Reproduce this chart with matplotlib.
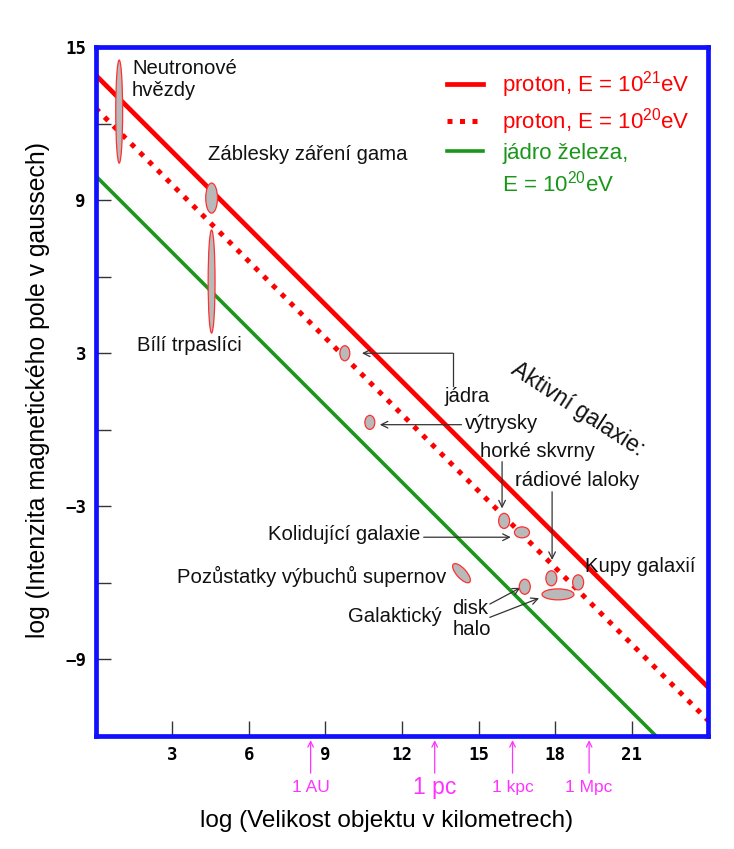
import numpy as np
import matplotlib
matplotlib.use("Agg")
import matplotlib.pyplot as plt
from matplotlib.patches import Ellipse
from matplotlib.lines import Line2D
from matplotlib.transforms import blended_transform_factory

plt.rcParams['font.family'] = ['Liberation Sans', 'DejaVu Sans']
plt.rcParams['mathtext.fontset'] = 'custom'
plt.rcParams['mathtext.rm'] = 'Liberation Sans'
plt.rcParams['mathtext.it'] = 'Liberation Sans:italic'
plt.rcParams['mathtext.bf'] = 'Liberation Sans:bold'

# Hillas lines: log B = b - log R
line_labels = ['proton, E = $\\mathrm{10^{21}}$eV', 'proton, E = $\\mathrm{10^{20}}$eV', 'jádro železa,']
line_b = [13.9, 12.6, 9.95]
line_colors = ['#ff0000', '#ff0000', '#1a961a']
line_styles = ['-', (0, (1, 1.5)), '-']
line_widths = [3.4, 3.6, 2.6]

# astrophysical objects (x = log R [km], y = log B [G])
obj_x = [0.92, 4.54, 4.54, 9.76, 10.74, 16.0, 16.70, 14.33, 16.81, 17.85, 18.11, 18.90]
obj_y = [12.47, 9.08, 5.81, 3.0, 0.29, -3.57, -4.02, -5.62, -6.15, -5.82, -6.45, -5.98]
obj_w = [0.27, 0.46, 0.27, 0.39, 0.39, 0.43, 0.59, 0.95, 0.43, 0.43, 1.25, 0.43]
obj_h = [4.04, 1.18, 4.04, 0.59, 0.55, 0.59, 0.43, 0.38, 0.59, 0.59, 0.43, 0.59]
obj_ang = [0, 0, 0, 0, 0, 0, 0, -48, 0, 0, 0, 0]

# labels: text, x, y, ha, va
labels = [
    ('Neutronové\nhvězdy', 1.42, 14.55, 'left', 'top'),
    ('Záblesky záření gama', 4.40, 10.77, 'left', 'center'),
    ('Bílí trpaslíci', 1.62, 3.32, 'left', 'center'),
    ('jádra', 13.68, 1.30, 'left', 'center'),
    ('výtrysky', 14.46, 0.25, 'left', 'center'),
    ('horké skvrny', 15.05, -0.86, 'left', 'center'),
    ('rádiové laloky', 16.44, -1.99, 'left', 'center'),
    ('Kolidující galaxie', 12.70, -4.12, 'right', 'center'),
    ('Pozůstatky výbuchů supernov', 13.72, -5.73, 'right', 'center'),
    ('Galaktický', 13.55, -7.32, 'right', 'center'),
    ('disk', 13.98, -6.99, 'left', 'center'),
    ('halo', 13.99, -7.82, 'left', 'center'),
    ('Kupy galaxií', 19.16, -5.34, 'left', 'center'),
]

# pointer arrows: (x_from, y_from, x_to, y_to)
pointers = [
    (13.98, 3.0, 10.43, 3.0),
    (14.33, 0.2, 11.13, 0.2),
    (15.92, -1.25, 15.92, -3.08),
    (17.88, -2.43, 17.88, -5.10),
    (12.85, -4.21, 16.26, -4.21),
    (15.44, -6.83, 16.64, -6.19),
    (15.44, -7.35, 17.37, -6.60),
]

# distance marks below x axis
scale_x = [8.42, 13.28, 16.33, 19.33]
scale_lab = ['1 AU', '1 pc', '1 kpc', '1 Mpc']
scale_size = [12.5, 16.5, 12.5, 12.5]

xticks = [3, 6, 9, 12, 15, 18, 21]
yticks = [-12, -9, -6, -3, 0, 3, 6, 9, 12, 15]
ytick_labels = ['', '\u22129', '', '\u22123', '', '3', '', '9', '', '15']

fig = plt.figure(figsize=(7.34, 8.49), dpi=100)
ax = fig.add_axes([0.1304, 0.1331, 0.8346, 0.8115])
ax.set_xlim(0, 24)
ax.set_ylim(-12, 15)

xs = np.array([0, 24])
handles = []
for lab, b, c, ls, lw in zip(line_labels, line_b, line_colors, line_styles, line_widths):
    h, = ax.plot(xs, b - xs, color=c, linestyle=ls, lw=lw, label=lab, zorder=2)
    handles.append(h)
extra = Line2D([], [], color=line_colors[2], linestyle='none', label='E = $\\mathrm{10^{20}}$eV')
handles.append(extra)

for x, y, w, h, a in zip(obj_x, obj_y, obj_w, obj_h, obj_ang):
    ax.add_patch(Ellipse((x, y), w, h, angle=a, facecolor='#b9b9b9',
                         edgecolor='#ff3030', lw=0.9, zorder=4))

for t, x, y, ha, va in labels:
    ax.text(x, y, t, ha=ha, va=va, fontsize=14.6, color='#111111', zorder=5)

ax.text(18.9, 0.8, 'Aktivní galaxie:', rotation=-33, rotation_mode='anchor',
        ha='center', va='center', fontsize=16.5, color='#111111')

# jádra pointer has an elbow
ax.plot([pointers[0][0], pointers[0][0]], [1.72, pointers[0][1]], color='#333333', lw=0.9)
for x0, y0, x1, y1 in pointers:
    ax.annotate('', xy=(x1, y1), xytext=(x0, y0),
                arrowprops=dict(arrowstyle='->', color='#333333', lw=0.9,
                                shrinkA=0, shrinkB=0, mutation_scale=12))

trans = blended_transform_factory(ax.transData, ax.transAxes)
for x, lab, s in zip(scale_x, scale_lab, scale_size):
    ax.annotate('', xy=(x, -0.006), xytext=(x, -0.054), xycoords=trans, textcoords=trans,
                arrowprops=dict(arrowstyle='->', color='#ff33ff', lw=0.9,
                                shrinkA=0, shrinkB=0, mutation_scale=10),
                annotation_clip=False)
    ax.text(x, -0.075, lab, transform=trans, ha='center', va='center',
            fontsize=s, color='#ff33ff')

leg = ax.legend(handles=handles, loc='upper left', bbox_to_anchor=(0.5584, 0.981),
                borderaxespad=0, frameon=False, fontsize=16, labelcolor='linecolor',
                handlelength=1.65, handletextpad=0.85, labelspacing=0.28)

ax.set_xticks(xticks)
ax.set_xticklabels([str(t) for t in xticks])
ax.set_yticks(yticks)
ax.set_yticklabels(ytick_labels)
ax.tick_params(direction='in', length=11, width=1.0, color='#333333', pad=7,
               labelsize=12.5)
for lab in ax.get_xticklabels() + ax.get_yticklabels():
    lab.set_family('DejaVu Sans Mono')
    lab.set_fontweight('bold')

for sp in ax.spines.values():
    sp.set_color('#1010ff')
    sp.set_linewidth(3.4)

ax.set_xlabel('log (Velikost objektu v kilometrech)', fontsize=17.5)
ax.xaxis.set_label_coords(0.474, -0.108)
ax.set_ylabel('log (Intenzita magnetického pole v gaussech)', fontsize=17.8)
ax.yaxis.set_label_coords(-0.075, 0.502)

fig.savefig('out.png', dpi=100)
